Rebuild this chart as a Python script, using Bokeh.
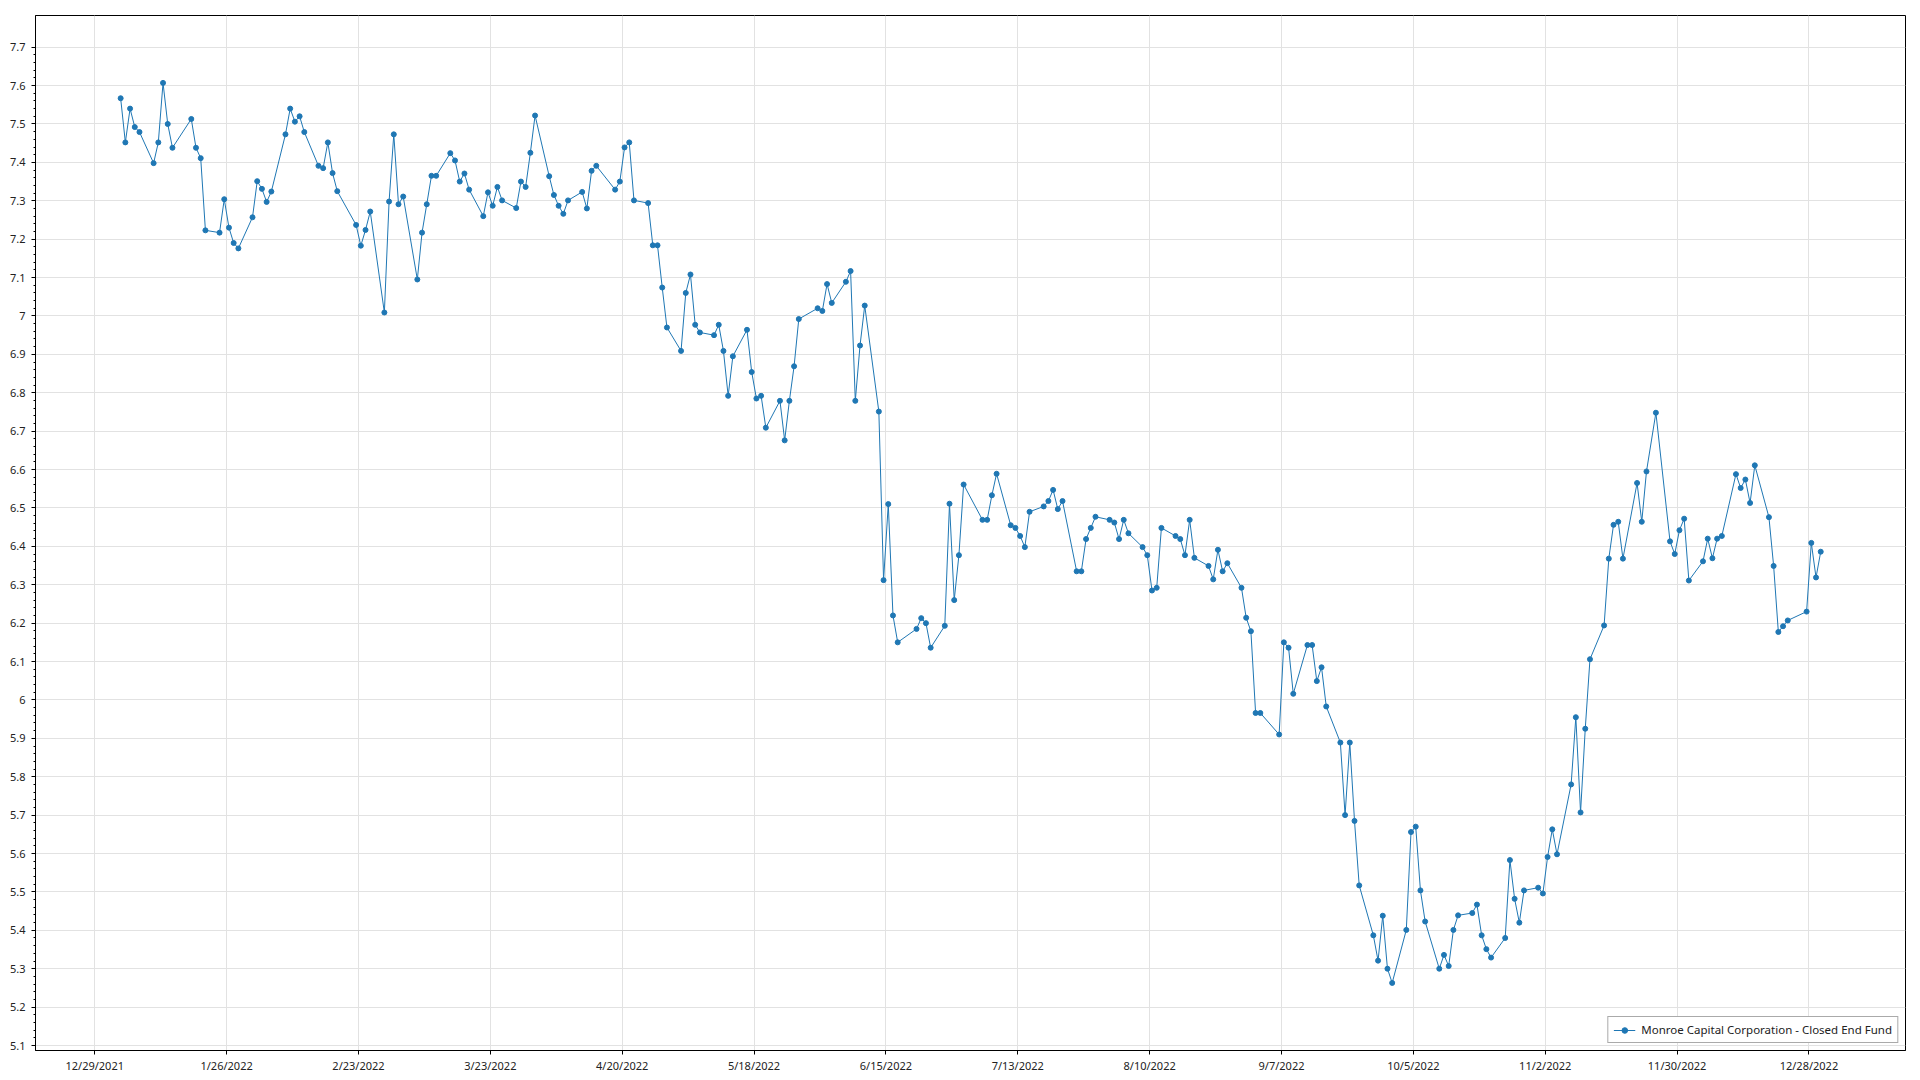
import pandas as pd
from bokeh.plotting import figure
from bokeh.models import (FixedTicker, CustomJSTickFormatter, Range1d, Legend,
                          LegendItem, ColumnDataSource)
from bokeh.embed import file_html
from bokeh.resources import INLINE

series_name = "Monroe Capital Corporation - Closed End Fund"

dates = [
    # Jan
    "2022-01-03", "2022-01-04", "2022-01-05", "2022-01-06", "2022-01-07", "2022-01-10", "2022-01-11",
    "2022-01-12", "2022-01-13", "2022-01-14", "2022-01-18", "2022-01-19", "2022-01-20", "2022-01-21",
    "2022-01-24", "2022-01-25", "2022-01-26", "2022-01-27", "2022-01-28", "2022-01-31",
    # Feb
    "2022-02-01", "2022-02-02", "2022-02-03", "2022-02-04", "2022-02-07", "2022-02-08", "2022-02-09",
    "2022-02-10", "2022-02-11", "2022-02-14", "2022-02-15", "2022-02-16", "2022-02-17", "2022-02-18",
    "2022-02-22", "2022-02-23", "2022-02-24", "2022-02-25", "2022-02-28",
    # Mar
    "2022-03-01", "2022-03-02", "2022-03-03", "2022-03-04", "2022-03-07", "2022-03-08", "2022-03-09",
    "2022-03-10", "2022-03-11", "2022-03-14", "2022-03-15", "2022-03-16", "2022-03-17", "2022-03-18",
    "2022-03-21", "2022-03-22", "2022-03-23", "2022-03-24", "2022-03-25", "2022-03-28", "2022-03-29",
    "2022-03-30", "2022-03-31",
    # Apr
    "2022-04-01", "2022-04-04", "2022-04-05", "2022-04-06", "2022-04-07", "2022-04-08", "2022-04-11",
    "2022-04-12", "2022-04-13", "2022-04-14", "2022-04-18", "2022-04-19", "2022-04-20", "2022-04-21",
    "2022-04-22", "2022-04-25", "2022-04-26", "2022-04-27", "2022-04-28", "2022-04-29",
    # May
    "2022-05-02", "2022-05-03", "2022-05-04", "2022-05-05", "2022-05-06", "2022-05-09", "2022-05-10",
    "2022-05-11", "2022-05-12", "2022-05-13", "2022-05-16", "2022-05-17", "2022-05-18", "2022-05-19",
    "2022-05-20", "2022-05-23", "2022-05-24", "2022-05-25", "2022-05-26", "2022-05-27", "2022-05-31",
    # Jun
    "2022-06-01", "2022-06-02", "2022-06-03", "2022-06-06", "2022-06-07", "2022-06-08", "2022-06-09",
    "2022-06-10", "2022-06-13", "2022-06-14", "2022-06-15", "2022-06-16", "2022-06-17", "2022-06-21",
    "2022-06-22", "2022-06-23", "2022-06-24", "2022-06-27", "2022-06-28", "2022-06-29", "2022-06-30",
    # Jul
    "2022-07-01", "2022-07-05", "2022-07-06", "2022-07-07", "2022-07-08", "2022-07-11", "2022-07-12",
    "2022-07-13", "2022-07-14", "2022-07-15", "2022-07-18", "2022-07-19", "2022-07-20", "2022-07-21",
    "2022-07-22", "2022-07-25", "2022-07-26", "2022-07-27", "2022-07-28", "2022-07-29",
    # Aug
    "2022-08-01", "2022-08-02", "2022-08-03", "2022-08-04", "2022-08-05", "2022-08-08", "2022-08-09",
    "2022-08-10", "2022-08-11", "2022-08-12", "2022-08-15", "2022-08-16", "2022-08-17", "2022-08-18",
    "2022-08-19", "2022-08-22", "2022-08-23", "2022-08-24", "2022-08-25", "2022-08-26", "2022-08-29",
    "2022-08-30", "2022-08-31",
    # Sep
    "2022-09-01", "2022-09-02", "2022-09-06", "2022-09-07", "2022-09-08", "2022-09-09", "2022-09-12",
    "2022-09-13", "2022-09-14", "2022-09-15", "2022-09-16", "2022-09-19", "2022-09-20", "2022-09-21",
    "2022-09-22", "2022-09-23", "2022-09-26", "2022-09-27", "2022-09-28", "2022-09-29", "2022-09-30",
    # Oct
    "2022-10-03", "2022-10-04", "2022-10-05", "2022-10-06", "2022-10-07", "2022-10-10", "2022-10-11",
    "2022-10-12", "2022-10-13", "2022-10-14", "2022-10-17", "2022-10-18", "2022-10-19", "2022-10-20",
    "2022-10-21", "2022-10-24", "2022-10-25", "2022-10-26", "2022-10-27", "2022-10-28", "2022-10-31",
    # Nov
    "2022-11-01", "2022-11-02", "2022-11-03", "2022-11-04", "2022-11-07", "2022-11-08", "2022-11-09",
    "2022-11-10", "2022-11-11", "2022-11-14", "2022-11-15", "2022-11-16", "2022-11-17", "2022-11-18",
    "2022-11-21", "2022-11-22", "2022-11-23", "2022-11-25", "2022-11-28", "2022-11-29", "2022-11-30",
    # Dec
    "2022-12-01", "2022-12-02", "2022-12-05", "2022-12-06", "2022-12-07", "2022-12-08", "2022-12-09",
    "2022-12-12", "2022-12-13", "2022-12-14", "2022-12-15", "2022-12-16", "2022-12-19", "2022-12-20",
    "2022-12-21", "2022-12-22", "2022-12-23", "2022-12-27", "2022-12-28", "2022-12-29", "2022-12-30",
]

close = [
    # Jan
    7.567, 7.452, 7.540, 7.492, 7.479, 7.398, 7.452, 7.607, 7.500, 7.438, 7.513, 7.438, 7.411, 7.223,
    7.217, 7.304, 7.230, 7.190, 7.176, 7.257,
    # Feb
    7.351, 7.331, 7.297, 7.324, 7.473, 7.540, 7.506, 7.520, 7.479, 7.391, 7.385, 7.452, 7.372, 7.325,
    7.237, 7.183, 7.224, 7.272, 7.009,
    # Mar
    7.298, 7.473, 7.291, 7.311, 7.095, 7.217, 7.291, 7.365, 7.365, 7.424, 7.405, 7.350, 7.371, 7.329,
    7.260, 7.322, 7.287, 7.336, 7.301, 7.281, 7.350, 7.336, 7.425,
    # Apr
    7.522, 7.364, 7.315, 7.287, 7.266, 7.301, 7.323, 7.280, 7.378, 7.391, 7.329, 7.350, 7.439, 7.452,
    7.301, 7.294, 7.184, 7.184, 7.074, 6.970,
    # May
    6.909, 7.060, 7.108, 6.977, 6.957, 6.950, 6.977, 6.909, 6.792, 6.895, 6.964, 6.854, 6.785, 6.792,
    6.709, 6.779, 6.676, 6.779, 6.869, 6.992, 7.020,
    # Jun
    7.013, 7.083, 7.034, 7.089, 7.117, 6.779, 6.923, 7.027, 6.751, 6.312, 6.510, 6.220, 6.150, 6.185,
    6.213, 6.200, 6.136, 6.193, 6.511, 6.260, 6.377,
    # Jul
    6.561, 6.469, 6.469, 6.533, 6.589, 6.455, 6.448, 6.427, 6.398, 6.490, 6.504, 6.518, 6.547, 6.497,
    6.518, 6.335, 6.335, 6.419, 6.448, 6.477,
    # Aug
    6.469, 6.462, 6.419, 6.469, 6.434, 6.398, 6.377, 6.285, 6.292, 6.448, 6.427, 6.419, 6.377, 6.469,
    6.370, 6.349, 6.314, 6.391, 6.335, 6.356, 6.292, 6.214, 6.179,
    # Sep
    5.966, 5.966, 5.910, 6.150, 6.136, 6.016, 6.143, 6.143, 6.049, 6.085, 5.983, 5.889, 5.700, 5.889,
    5.685, 5.517, 5.387, 5.321, 5.438, 5.300, 5.263,
    # Oct
    5.401, 5.656, 5.670, 5.504, 5.423, 5.300, 5.336, 5.307, 5.401, 5.439, 5.445, 5.467, 5.387, 5.351,
    5.329, 5.380, 5.583, 5.482, 5.420, 5.504, 5.511,
    # Nov
    5.496, 5.591, 5.663, 5.598, 5.780, 5.955, 5.707, 5.925, 6.106, 6.194, 6.368, 6.456, 6.464, 6.368,
    6.565, 6.464, 6.595, 6.748, 6.413, 6.380, 6.442,
    # Dec
    6.472, 6.311, 6.361, 6.420, 6.369, 6.420, 6.427, 6.588, 6.552, 6.574, 6.513, 6.611, 6.476, 6.349,
    6.177, 6.192, 6.207, 6.230, 6.409, 6.319, 6.386,
]

x_tick_labels = ["12/29/2021", "1/26/2022", "2/23/2022", "3/23/2022", "4/20/2022", "5/18/2022",
                 "6/15/2022", "7/13/2022", "8/10/2022", "9/7/2022", "10/5/2022", "11/2/2022",
                 "11/30/2022", "12/28/2022"]
y_tick_values = [5.1, 5.2, 5.3, 5.4, 5.5, 5.6, 5.7, 5.8, 5.9, 6.0, 6.1, 6.2, 6.3, 6.4,
                 6.5, 6.6, 6.7, 6.8, 6.9, 7.0, 7.1, 7.2, 7.3, 7.4, 7.5, 7.6, 7.7]

# numeric day axis (days since first tick date); points sit at mid-day
origin = pd.Timestamp("2021-12-29")
day = (pd.to_datetime(dates) - origin) / pd.Timedelta(days=1) + 0.5
x_ticks = [int((pd.Timestamp(pd.to_datetime(s, format="%m/%d/%Y")) - origin).days) for s in x_tick_labels]

src = ColumnDataSource(dict(x=list(day), y=close))

FONT = "Noto Sans"
BLUE = "#1f77b4"

p = figure(frame_width=1870, frame_height=1035, output_backend="svg", toolbar_location=None,
           x_range=Range1d(-12.58, 384.5), y_range=Range1d(5.087, 7.7825),
           min_border_left=35, min_border_top=15, min_border_right=7, min_border_bottom=25)
p.background_fill_color = "white"
p.border_fill_color = "white"
p.outline_line_color = "black"
p.outline_line_width = 1

ln = p.line("x", "y", source=src, line_color=BLUE, line_width=1)
sc = p.scatter("x", "y", source=src, size=5, fill_color=BLUE, line_color=BLUE, marker="circle")

# x axis
p.xaxis.ticker = FixedTicker(ticks=x_ticks)
p.xaxis.major_label_overrides = {t: s for t, s in zip(x_ticks, x_tick_labels)}
p.xaxis.minor_tick_line_color = None
p.xaxis.major_tick_in = 0
p.xaxis.major_tick_out = 4
p.xaxis.major_label_standoff = 3

# y axis
minor = []
for v in y_tick_values[:-1]:
    for k in range(1, 5):
        minor.append(round(v + 0.02 * k, 3))
p.yaxis.ticker = FixedTicker(ticks=y_tick_values, minor_ticks=minor)
p.yaxis.formatter = CustomJSTickFormatter(code="return (Math.round(tick*10)/10).toString();")
p.yaxis.major_tick_in = 0
p.yaxis.major_tick_out = 4
p.yaxis.minor_tick_in = 0
p.yaxis.minor_tick_out = 2
p.yaxis.major_label_standoff = 6

for ax in (p.xaxis[0], p.yaxis[0]):
    ax.axis_line_color = "black"
    ax.major_tick_line_color = "black"
    ax.minor_tick_line_color = "black" if ax is p.yaxis[0] else None
    ax.major_label_text_font = FONT
    ax.major_label_text_font_size = "11px"
    ax.major_label_text_color = "#222222"

p.xgrid.grid_line_color = "#e2e2e2"
p.ygrid.grid_line_color = "#e2e2e2"
p.xgrid.grid_line_width = 1
p.ygrid.grid_line_width = 1

legend = Legend(items=[LegendItem(label=series_name, renderers=[ln, sc])],
                location="bottom_right", margin=7, padding=5, spacing=0,
                label_text_font=FONT, label_text_font_size="11.5px", label_text_color="#222222",
                glyph_width=22, glyph_height=14, label_height=14, label_standoff=6,
                border_line_color="#555555", border_line_width=1, background_fill_alpha=1)
p.add_layout(legend)

open("out.html", "w").write(file_html(p, INLINE))
